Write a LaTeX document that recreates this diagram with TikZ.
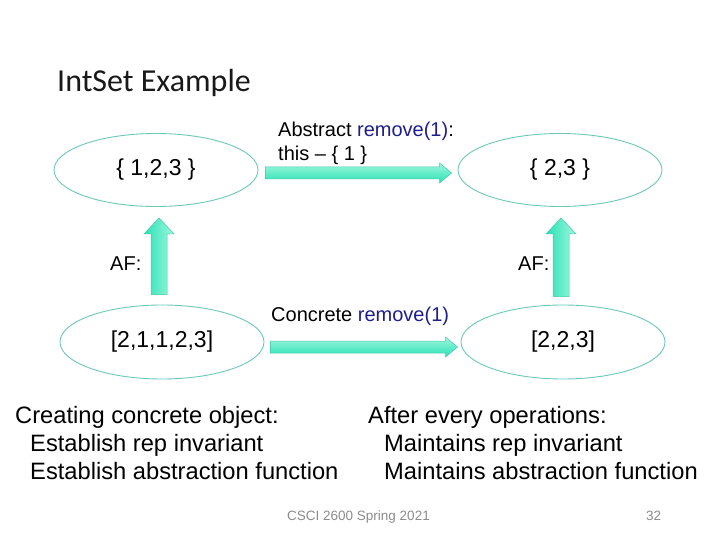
\documentclass[tikz,border=0pt]{standalone}
\usepackage{fontspec}
\setmainfont{Liberation Sans}
\newfontfamily\titlefont{Carlito}
\usetikzlibrary{calc,shapes.geometric}
\definecolor{navy}{RGB}{30,30,140}
\definecolor{rim}{RGB}{110,200,185}
\definecolor{arrdark}{RGB}{40,225,180}
\definecolor{arrlight}{RGB}{160,248,222}
\definecolor{arredge}{RGB}{70,200,170}
\definecolor{footgray}{RGB}{140,140,140}
\tikzset{
  oval/.style={ellipse, draw=rim, line width=0.9pt, fill=white, minimum width=204pt, minimum height=73pt, inner sep=0pt, font=\fontsize{23}{27}\selectfont},
  lbl/.style={anchor=base west, inner sep=0pt, font=\fontsize{20}{23}\selectfont},
  body/.style={anchor=base west, inner sep=0pt, font=\fontsize{23.7}{28}\selectfont},
  harrowfill/.style={draw=arredge, line width=0.5pt, top color=arrlight, bottom color=arrdark},
  varrowfill/.style={draw=arredge, line width=0.5pt, left color=arrdark, right color=arrlight},
}
\newcommand{\harrow}[2]{%
  \path[harrowfill] let \p1=(#1), \p2=(#2) in
    (\x1,\y1+6pt) -- (\x2-12pt,\y1+6pt) -- (\x2-12pt,\y1+10pt) -- (\x2,\y1)
    -- (\x2-12pt,\y1-10pt) -- (\x2-12pt,\y1-6pt) -- (\x1,\y1-6pt) -- cycle;}
\newcommand{\varrow}[2]{%
  \path[varrowfill] let \p1=(#1), \p2=(#2) in
    (\x1-8pt,\y1) -- (\x1-8pt,\y2-16pt) -- (\x1-15pt,\y2-16pt) -- (\x1,\y2)
    -- (\x1+15pt,\y2-16pt) -- (\x1+8pt,\y2-16pt) -- (\x1+8pt,\y1) -- cycle;}
\begin{document}
\begin{tikzpicture}[x=1pt,y=-1pt]
\useasboundingbox[fill=white] (0,0) rectangle (720,540);

\node[anchor=base west, inner sep=0pt, font=\titlefont\fontsize{32}{36}\selectfont, text=black!90] (title) at (57,92) {IntSet Example};

\node[oval] (A1) at (156,170) {\{ 1,2,3 \}};
\node[oval] (A2) at (560,170) {\{ 2,3 \}};
\node[oval, minimum height=74pt] (C1) at (162,342) {[2,1,1,2,3]};
\node[oval, minimum height=74pt] (C2) at (563,342) {[2,2,3]};

\coordinate (ta1) at ($(A1.east)+(7,3)$);
\coordinate (ta2) at ($(A2.west)+(-6,3)$);
\harrow{ta1}{ta2}
\coordinate (ba1) at ($(C1.east)+(6,5)$);
\coordinate (ba2) at ($(C2.west)+(-3,5)$);
\harrow{ba1}{ba2}

\coordinate (la1) at ($(C1.north)+(-3,-10)$);
\coordinate (la2) at ($(A1.south)+(3,11)$);
\varrow{la1}{la2}
\coordinate (ra1) at ($(C2.north)+(-2,-8)$);
\coordinate (ra2) at ($(A2.south)+(1,11)$);
\varrow{ra1}{ra2}

\node[lbl] (abs1) at (278,137) {Abstract \textcolor{navy}{remove(1)}:};
\node[lbl] (abs2) at (278,161) {this -- \{ 1 \}};
\node[lbl] (conc) at (271,321) {Concrete \textcolor{navy}{remove(1)}};
\node[lbl] (af1) at (110,270) {AF:};
\node[lbl] (af2) at (518,270) {AF:};

\node[body] (l1) at (15,423) {Creating concrete object:};
\node[body] (l2) at (30,451) {Establish rep invariant};
\node[body] (l3) at (30,479) {Establish abstraction function};
\node[body] (r1) at (368,423) {After every operations:};
\node[body] (r2) at (384,451) {Maintains rep invariant};
\node[body] (r3) at (384,479) {Maintains abstraction function};

\node[anchor=base west, inner sep=0pt, font=\fontsize{13.5}{16}\selectfont, text=footgray] (foot) at (287,520) {CSCI 2600 Spring 2021};
\node[anchor=base west, inner sep=0pt, font=\fontsize{13.5}{16}\selectfont, text=footgray] (page) at (646,520) {32};
\end{tikzpicture}
\end{document}
